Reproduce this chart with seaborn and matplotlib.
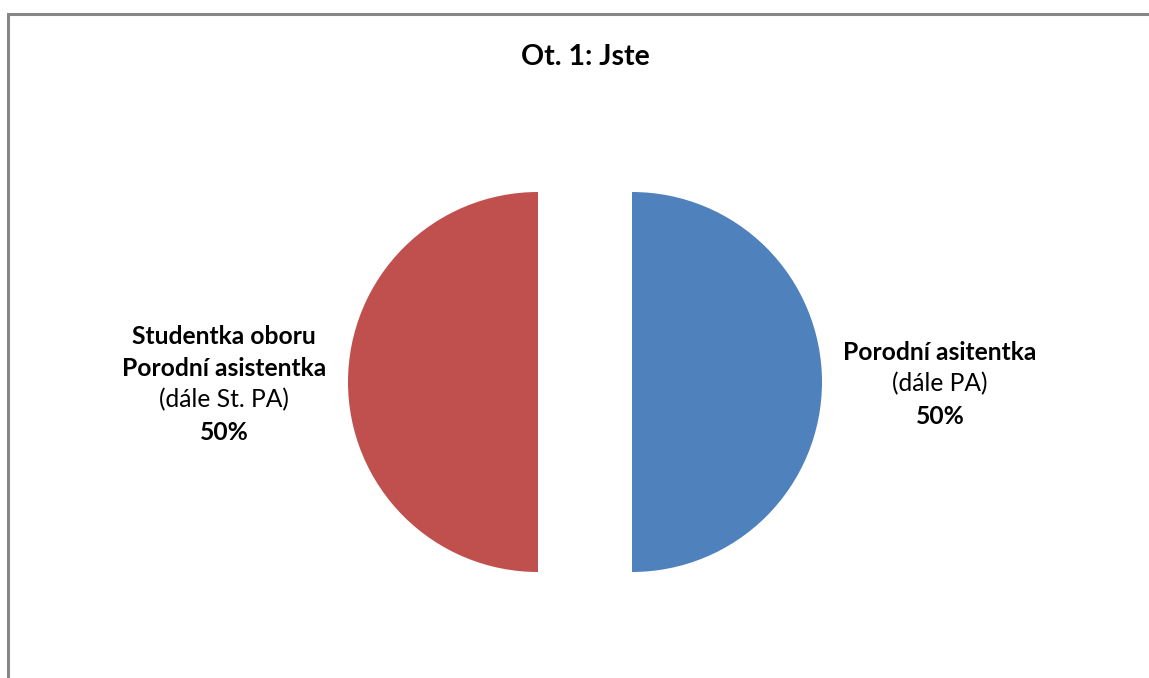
import matplotlib
matplotlib.use("Agg")
import matplotlib.pyplot as plt
from matplotlib.patches import Rectangle
import seaborn as sns

sns.set_theme(style="white")
plt.rcParams["font.family"] = ["Lato", "DejaVu Sans"]
plt.rcParams["text.color"] = "black"

# Data
title = "Ot. 1: Jste"
categories = ["Porodní asitentka", "Studentka oboru\nPorodní asistentka"]
subtitles = ["(dále PA)", "(dále St. PA)"]
shares = [50, 50]
colors = ["#4F81BD", "#C0504D"]

W, H = 1149, 678
fig = plt.figure(figsize=(W / 100, H / 100), dpi=100)
fig.patch.set_facecolor("white")

# Axes in pixel units spanning the whole canvas
ax = fig.add_axes([0, 0, 1, 1])

cx, cy, r = 585, H - 382, 190
gap = 47
ax.pie(shares, colors=colors, startangle=90, counterclock=False,
       explode=[gap, gap], radius=r, center=(cx, cy),
       wedgeprops=dict(linewidth=0), frame=True)
ax.set_xlim(0, W)
ax.set_ylim(0, H)
ax.set_aspect("equal")
ax.axis("off")

# Chart frame (right and bottom edges fall outside the canvas)
ax.add_patch(Rectangle((8, -20), W + 20, H - 14 + 20, fill=False,
                       edgecolor="#878787", linewidth=2.2, zorder=0))

fig.text(585 / W, 1 - 57 / H, title, ha="center", va="center",
         fontsize=20.5, fontweight="bold", color="black")

fs = 17.7
line = 32

# Right label (blue)
rx = 940
y0 = 352
ax.text(rx, H - y0, categories[0], ha="center", va="center",
        fontsize=fs, fontweight="bold")
ax.text(rx, H - (y0 + line), subtitles[0], ha="center", va="center",
        fontsize=fs)
ax.text(rx, H - (y0 + 2 * line), f"{shares[0]}%", ha="center", va="center",
        fontsize=fs, fontweight="bold")

# Left label (red)
lx = 224
y1 = 336
for i, s in enumerate(categories[1].split("\n")):
    ax.text(lx, H - (y1 + i * line), s, ha="center", va="center",
            fontsize=fs, fontweight="bold")
ax.text(lx, H - (y1 + 2 * line), subtitles[1], ha="center", va="center",
        fontsize=fs)
ax.text(lx, H - (y1 + 3 * line), f"{shares[1]}%", ha="center", va="center",
        fontsize=fs, fontweight="bold")

fig.savefig("out.png", dpi=100)
